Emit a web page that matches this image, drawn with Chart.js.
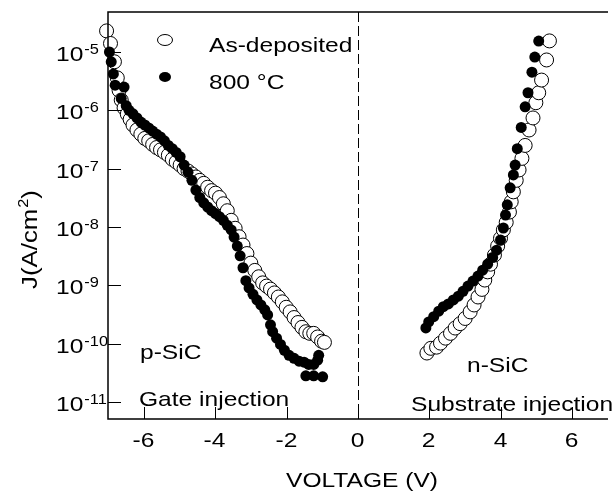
<!DOCTYPE html>
<html>
<head>
<meta charset="utf-8">
<script src="https://cdn.jsdelivr.net/npm/chart.js@4.4.1/dist/chart.umd.min.js"></script>
<style>
  html, body { margin: 0; padding: 0; background: #fff; }
  #wrap { width: 616px; height: 497px; position: relative; }
</style>
</head>
<body>
<div id="wrap"><canvas id="c"></canvas></div>
<script>
// As-deposited, negative bias (p-SiC, gate injection)
const asDepGateV = [-7.04, -6.93, -6.82, -6.74, -6.69, -6.63, -6.55, -6.46, -6.38, -6.30,
  -6.19, -6.08, -5.97, -5.86, -5.75, -5.64, -5.53, -5.42, -5.31, -5.20,
  -5.09, -4.98, -4.87, -4.76, -4.65, -4.54, -4.43, -4.32, -4.21, -4.10,
  -3.99, -3.88, -3.77, -3.66, -3.55, -3.44, -3.33, -3.22, -3.11, -3.00,
  -2.89, -2.78, -2.67, -2.56, -2.45, -2.34, -2.23, -2.12, -2.01, -1.90,
  -1.79, -1.68, -1.57, -1.46, -1.35, -1.24, -1.13, -1.02, -0.94]
const asDepGateJ = [2.3e-5, 1.4e-5, 6.8e-6, 3.6e-6, 2.2e-6, 1.5e-6, 1.1e-6, 8.6e-7, 7.0e-7, 5.6e-7,
  4.6e-7, 3.9e-7, 3.3e-7, 3.0e-7, 2.6e-7, 2.3e-7, 2.1e-7, 1.9e-7, 1.7e-7, 1.45e-7,
  1.3e-7, 1.15e-7, 1.0e-7, 9.1e-8, 8.1e-8, 7.2e-8, 6.3e-8, 5.6e-8, 4.8e-8, 4.2e-8,
  3.8e-8, 3.2e-8, 2.5e-8, 1.9e-8, 1.3e-8, 9.5e-9, 6.8e-9, 4.9e-9, 3.5e-9, 2.4e-9,
  1.8e-9, 1.4e-9, 1.1e-9, 9.7e-10, 8.6e-10, 7.4e-10, 6.3e-10, 5.2e-10, 4.2e-10, 3.5e-10,
  2.8e-10, 2.3e-10, 1.9e-10, 1.6e-10, 1.5e-10, 1.5e-10, 1.3e-10, 1.1e-10, 1.05e-10]

// As-deposited, positive bias (n-SiC, substrate injection)
const asDepSubV = [1.93, 2.04, 2.20, 2.31, 2.45, 2.59, 2.72, 2.86, 3.00, 3.14,
  3.25, 3.36, 3.47, 3.55, 3.63, 3.71, 3.82, 3.91, 3.99, 4.07,
  4.15, 4.24, 4.29, 4.35, 4.43, 4.51, 4.59, 4.68, 4.79, 4.90,
  4.98, 5.06, 5.14, 5.28, 5.36]
const asDepSubJ = [6.9e-11, 8.3e-11, 8.7e-11, 1.02e-10, 1.24e-10, 1.5e-10, 1.85e-10, 2.2e-10, 2.7e-10, 3.5e-10,
  4.6e-10, 6.3e-10, 8.5e-10, 1.23e-9, 1.7e-9, 2.3e-9, 3.3e-9, 4.7e-9, 6.4e-9, 8.9e-9,
  1.2e-8, 1.8e-8, 2.7e-8, 4.0e-8, 6.3e-8, 9.5e-8, 1.5e-7, 2.5e-7, 4.6e-7, 7.4e-7,
  1.35e-6, 2.0e-6, 3.3e-6, 7.3e-6, 1.55e-5]

// 800 °C anneal, negative bias
const annealGateV = [-6.96, -6.91, -6.85, -6.80, -6.55, -6.63, -6.49, -6.41, -6.30, -6.19,
  -6.08, -5.97, -5.86, -5.75, -5.64, -5.53, -5.42, -5.31, -5.20, -5.09,
  -4.98, -4.87, -4.76, -4.65, -4.54, -4.43, -4.32, -4.21, -4.10, -3.99,
  -3.88, -3.77, -3.66, -3.55, -3.47, -3.38, -3.30, -3.22, -3.14, -3.05,
  -2.94, -2.83, -2.72, -2.61, -2.53, -2.45, -2.39, -2.28, -2.17, -2.06,
  -1.93, -1.79, -1.65, -1.51, -1.38, -1.24, -1.13, -1.10, -1.46, -1.24, -0.99]
const annealGateJ = [1.0e-5, 6.8e-6, 4.2e-6, 2.7e-6, 2.5e-6, 1.6e-6, 1.2e-6, 1.0e-6, 8.7e-7, 7.4e-7,
  6.3e-7, 5.6e-7, 5.0e-7, 4.4e-7, 3.9e-7, 3.5e-7, 3.0e-7, 2.5e-7, 2.2e-7, 1.9e-7,
  1.6e-7, 1.15e-7, 8.7e-8, 6.3e-8, 4.3e-8, 3.2e-8, 2.6e-8, 2.2e-8, 1.9e-8, 1.7e-8,
  1.5e-8, 1.3e-8, 1.07e-8, 8.9e-9, 6.7e-9, 4.7e-9, 3.2e-9, 2.0e-9, 1.2e-9, 9.0e-10,
  7.0e-10, 5.6e-10, 4.6e-10, 3.8e-10, 3.1e-10, 2.1e-10, 1.6e-10, 1.24e-10, 9.7e-11, 7.7e-11,
  6.3e-11, 5.6e-11, 5.0e-11, 4.8e-11, 4.4e-11, 4.4e-11, 5.2e-11, 6.3e-11, 2.8e-11, 2.8e-11, 2.7e-11]

// 800 °C anneal, positive bias
const annealSubV = [1.90, 1.98, 2.12, 2.26, 2.39, 2.53, 2.67, 2.81, 2.94, 3.08,
  3.22, 3.36, 3.49, 3.63, 3.77, 3.88, 3.99, 4.07, 4.13, 4.18,
  4.26, 4.35, 4.40, 4.46, 4.57, 4.68, 4.76, 4.87, 4.95, 5.06]
const annealSubJ = [1.86e-10, 2.35e-10, 2.9e-10, 3.6e-10, 4.3e-10, 4.8e-10, 5.6e-10, 6.5e-10, 7.9e-10, 9.7e-10,
  1.18e-9, 1.44e-9, 1.82e-9, 2.3e-9, 3.0e-9, 4.0e-9, 6.0e-9, 9.6e-9, 1.6e-8, 2.4e-8,
  4.7e-8, 7.8e-8, 1.15e-7, 2.2e-7, 5.1e-7, 1.15e-6, 2.0e-6, 4.5e-6, 8.2e-6, 1.54e-5]

const xTicks = [-6, -4, -2, 0, 2, 4, 6]
const yTicks = [1e-11, 1e-10, 1e-9, 1e-8, 1e-7, 1e-6, 1e-5]
const seriesNames = ['As-deposited', '800 °C']

const FONT = 'Liberation Sans, Arial, Helvetica, sans-serif'
const SX = 1.17 // the original text is a bit wider than it is tall

const zip = (xs, ys) => xs.map((x, i) => ({ x, y: ys[i] }))

// draw text stretched horizontally
function wideText(ctx, txt, x, y, align, size) {
  ctx.save()
  ctx.font = size + 'px ' + FONT
  const w = ctx.measureText(txt).width * SX
  let x0 = x
  if (align === 'center') x0 = x - w / 2
  else if (align === 'right') x0 = x - w
  ctx.translate(x0, y)
  ctx.scale(SX, 1)
  ctx.textAlign = 'left'
  ctx.textBaseline = 'alphabetic'
  ctx.fillText(txt, 0, 0)
  ctx.restore()
  return w
}

const framePlugin = {
  id: 'frame',
  beforeDatasetsDraw(chart) {
    const { ctx, chartArea: a, scales: { x } } = chart
    // dashed line at 0 V
    ctx.save()
    ctx.strokeStyle = '#000'
    ctx.lineWidth = 1
    ctx.setLineDash([10, 4])
    const x0 = Math.round(x.getPixelForValue(0)) + 0.5
    ctx.beginPath()
    ctx.moveTo(x0, a.top)
    ctx.lineTo(x0, a.bottom)
    ctx.stroke()
    ctx.restore()
  },
  afterDraw(chart) {
    const { ctx, chartArea: a, scales: { x, y } } = chart
    ctx.save()
    ctx.fillStyle = '#000'
    ctx.strokeStyle = '#000'

    // axes frame: left, bottom, top
    ctx.lineWidth = 1.5
    ctx.beginPath()
    ctx.moveTo(a.right, a.top)
    ctx.lineTo(a.left, a.top)
    ctx.lineTo(a.left, a.bottom)
    ctx.lineTo(a.right, a.bottom)
    ctx.stroke()

    // inward ticks
    ctx.lineWidth = 1
    xTicks.forEach(v => {
      const px = Math.round(x.getPixelForValue(v)) + 0.5
      ctx.beginPath()
      ctx.moveTo(px, a.bottom)
      ctx.lineTo(px, a.bottom - 12)
      ctx.stroke()
      wideText(ctx, String(v), px - 1, a.bottom + 28, 'center', 21)
    })
    yTicks.forEach(v => {
      const py = Math.round(y.getPixelForValue(v)) + 0.5
      ctx.beginPath()
      ctx.moveTo(a.left, py)
      ctx.lineTo(a.left + 13, py)
      ctx.stroke()
      const w = wideText(ctx, '10', 56, py + 8, 'left', 21)
      wideText(ctx, String(Math.round(Math.log10(v))), 56 + w + 1, py + 1, 'left', 14)
    })

    // axis titles
    wideText(ctx, 'VOLTAGE (V)', 362, 487, 'center', 21)
    ctx.save()
    ctx.translate(37, 240)
    ctx.rotate(-Math.PI / 2)
    ctx.font = '22px ' + FONT
    const main = 'J(A/cm'
    const wMain = ctx.measureText(main).width
    ctx.font = '14px ' + FONT
    const wSup = ctx.measureText('2').width
    ctx.font = '22px ' + FONT
    const wEnd = ctx.measureText(')').width
    const total = (wMain + wSup + wEnd) * SX
    let cx = -total / 2
    cx += wideText(ctx, main, cx, 0, 'left', 22)
    cx += wideText(ctx, '2', cx + 1, -9, 'left', 14) + 1
    wideText(ctx, ')', cx, 0, 'left', 22)
    ctx.restore()

    // annotations
    wideText(ctx, 'p-SiC', 140, 359, 'left', 21)
    wideText(ctx, 'Gate injection', 139, 406, 'left', 21)
    wideText(ctx, 'n-SiC', 467, 372, 'left', 21)
    wideText(ctx, 'Substrate injection', 411, 411, 'left', 21)

    // legend
    ctx.lineWidth = 1
    ctx.beginPath()
    ctx.ellipse(165, 40, 7.5, 5.5, 0, 0, Math.PI * 2)
    ctx.fillStyle = '#fff'
    ctx.fill()
    ctx.stroke()
    ctx.fillStyle = '#000'
    ctx.beginPath()
    ctx.ellipse(165, 77, 6, 5, 0, 0, Math.PI * 2)
    ctx.fill()
    wideText(ctx, seriesNames[0], 209, 52, 'left', 21)
    wideText(ctx, seriesNames[1], 209, 89, 'left', 21)

    ctx.restore()
  }
}

new Chart(document.getElementById('c'), {
  type: 'scatter',
  data: {
    datasets: [
      {
        label: seriesNames[1],
        data: zip(annealGateV, annealGateJ).concat(zip(annealSubV, annealSubJ)),
        pointRadius: 5.5,
        pointBorderWidth: 0,
        pointBackgroundColor: '#000',
        pointBorderColor: '#000',
        clip: false,
        order: 1,
      },
      {
        label: seriesNames[0],
        data: zip(asDepGateV, asDepGateJ).concat(zip(asDepSubV, asDepSubJ)),
        pointRadius: 7,
        pointBorderWidth: 1,
        pointBackgroundColor: '#fff',
        pointBorderColor: '#000',
        clip: false,
        order: 2,
      },
    ],
  },
  options: {
    responsive: true,
    maintainAspectRatio: false,
    animation: false,
    layout: { padding: { left: 108, top: 12, right: 0, bottom: 78 } },
    plugins: { legend: { display: false }, tooltip: { enabled: false } },
    scales: {
      x: { type: 'linear', min: -7, max: 7, display: false },
      y: { type: 'logarithmic', min: 5.1e-12, max: 4.85e-5, display: false },
    },
  },
  plugins: [framePlugin],
})
</script>
</body>
</html>
